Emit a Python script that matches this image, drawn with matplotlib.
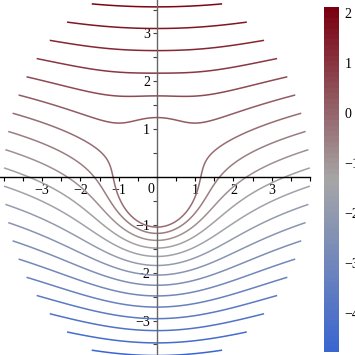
import numpy as np
import matplotlib
matplotlib.use('Agg')
import matplotlib.pyplot as plt
from matplotlib.colors import LinearSegmentedColormap, Normalize
from matplotlib.cm import ScalarMappable
from matplotlib.ticker import FixedLocator, MultipleLocator

# stream function of flow past a cylinder with circulation
# psi = U (r - a^2/r) sin(theta) + k ln r , plotted on the annulus a <= r <= 4
U = 1.0
a = 1.0
k_circ = -1.0
r_inner, r_outer = 1.0, 4.0
n_contours = 20

x_ticks = [-3, -2, -1, 1, 2, 3]
y_ticks = [-3, -2, -1, 1, 2, 3]
cbar_ticks = [-4, -3, -2, -1, 0, 1, 2]
cbar_lo, cbar_hi = -4.78, 2.12
cmap_colors = ['#3a66d0', '#a6a6a6', '#7a0010']

plt.rcParams['font.family'] = ['Liberation Serif', 'DejaVu Serif']
plt.rcParams['font.size'] = 10

# polar grid
r = np.linspace(r_inner, r_outer, 300)
t = np.linspace(0, 2*np.pi, 721)
R, T = np.meshgrid(r, t)
X = R*np.cos(T)
Y = R*np.sin(T)
Z = U*(R - a**2/R)*np.sin(T) + k_circ*np.log(R)
levels = np.linspace(Z.min(), Z.max(), n_contours + 2)[1:-1]

cmap = LinearSegmentedColormap.from_list('bgr', cmap_colors)
norm = Normalize(vmin=cbar_lo, vmax=cbar_hi)

fig = plt.figure(figsize=(3.55, 3.55), dpi=100)
ax = fig.add_axes([0, 0, 310/355, 1])
ax.contour(X, Y, Z, levels=levels, cmap=cmap, norm=norm, linewidths=1.1)
ax.set_xlim(-4.1, 4.0)
ax.set_ylim(-3.72, 3.70)

# axes through the origin
for s in ['top', 'right']:
	ax.spines[s].set_visible(False)
ax.spines['left'].set_position(('data', 0))
ax.spines['bottom'].set_position(('data', 0))
ax.spines['left'].set_color('#666666')
ax.spines['bottom'].set_color('black')
ax.spines['left'].set_linewidth(1.0)
ax.spines['bottom'].set_linewidth(1.0)

ax.xaxis.set_major_locator(FixedLocator(x_ticks))
ax.yaxis.set_major_locator(FixedLocator(y_ticks))
ax.xaxis.set_minor_locator(MultipleLocator(0.5))
ax.yaxis.set_minor_locator(MultipleLocator(0.5))
ax.tick_params(which='both', direction='out', length=3, width=0.8, pad=2)
ax.tick_params(axis='y', which='both', colors='#444444', labelcolor='black')
ax.text(-0.16, -0.12, '0', ha='center', va='top')

# colour bar
cax = fig.add_axes([324/355, 3/355, 15/355, 345/355])
sm = ScalarMappable(norm=norm, cmap=cmap.resampled(64))
cb = fig.colorbar(sm, cax=cax, ticks=cbar_ticks)
cb.outline.set_visible(False)
cb.ax.tick_params(length=0, pad=4)

plt.savefig('out.png', dpi=100)
